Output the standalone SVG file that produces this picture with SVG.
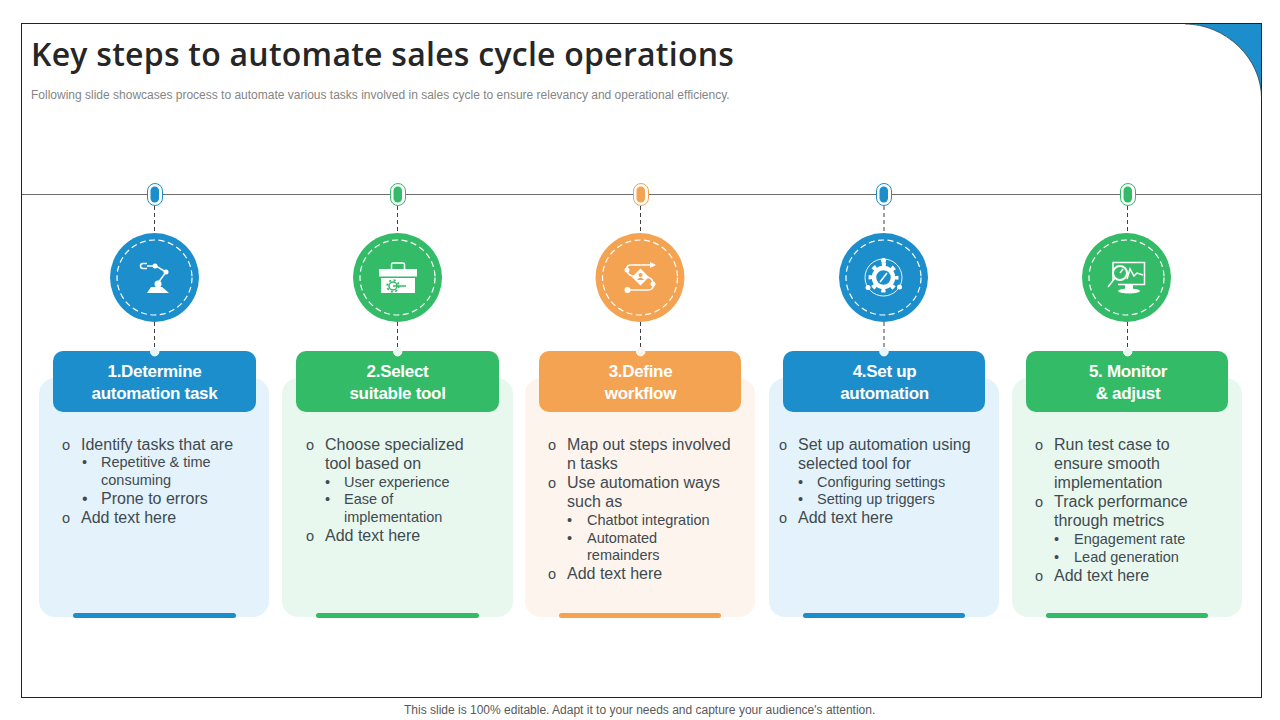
<svg xmlns="http://www.w3.org/2000/svg" width="1280" height="720" viewBox="0 0 1280 720">
<style>
text{font-family:"Liberation Sans",Arial,sans-serif}
.title{font-family:"Open Sans",sans-serif;font-size:32px;font-weight:600;fill:#262626;letter-spacing:.25px}
.sub{font-size:12px;fill:#858585}
.foot{font-size:12px;fill:#595959}
.hd{font-size:17px;font-weight:700;fill:#fff;text-anchor:middle;letter-spacing:-.3px}
.l1{font-size:16px;fill:#404a50}
.l2{font-size:14.5px;fill:#404a50}
.b{font-size:14.5px;fill:#404a50}
.dash{stroke:#404040;stroke-width:1;stroke-dasharray:4 3;fill:none}
.ring{fill:none;stroke:#fff;stroke-width:1.2;stroke-dasharray:6 3.500}
.ic{fill:#fff}
.icl{fill:none;stroke:#fff;stroke-width:1.5}
.pill{fill:#fff;stroke-width:1}
.blue{fill:#1c8ecb}.green{fill:#33bb68}.orange{fill:#f3a352}
</style>
<rect width="1280" height="720" fill="#fff"/>
<g id="frame">
<path d="M1185 24H1261.500V98C1261.500 58 1225 24 1185 24Z" fill="#1c8ecb"/>
<rect x="21.500" y="23.500" width="1240" height="674" fill="none" stroke="#222" stroke-width="1"/>
<path d="M1185 24C1225 24 1261.500 58 1261.500 98" fill="none" stroke="#333" stroke-width=".7"/>
</g>
<text class="title" x="31" y="66">Key steps to automate sales cycle operations</text>
<text class="sub" x="31" y="99">Following slide showcases process to automate various tasks involved in sales cycle to ensure relevancy and operational efficiency.</text>
<text class="foot" x="404" y="714">This slide is 100% editable. Adapt it to your needs and capture your audience's attention.</text>
<g id="connectors">
<line x1="22" y1="194.500" x2="1261" y2="194.500" stroke="#6e6e6e" stroke-width="1"/>
<path class="dash" d="M154.500 206V233M154.500 322V350M397.500 206V233M397.500 322V350M640.500 206V233M640.500 322V350M884 206V233M884 322V350M1127.500 206V233M1127.500 322V350"/>
</g>
<g id="node1">
<rect x="39" y="378" width="230" height="239" rx="16" fill="#e4f3fb"/>
<rect class="blue" x="73" y="613" width="163" height="5" rx="2.500"/>
<rect class="blue" x="53" y="351" width="203" height="61" rx="10"/>
<rect class="pill" x="147.500" y="183.500" width="15" height="22" rx="7.500" stroke="#1c8ecb"/><rect class="blue" x="150.500" y="186.500" width="8.500" height="16" rx="4.200"/>
<circle cx="154.700" cy="351.700" r="4.200" fill="#e8f4fb" stroke="#fff"/>
<circle class="blue" cx="154.500" cy="277.500" r="44.500"/><circle class="ring" cx="154.500" cy="277.500" r="37.500"/>
<path class="ic" d="M147 293L151 287H162L169 293Z"/><circle class="ic" cx="158" cy="284" r="3.500"/>
<path class="icl" stroke-width="3" d="M158 283L166 272L156 266L147 266"/><circle class="ic" cx="166" cy="272" r="2.500"/><circle class="ic" cx="155" cy="266" r="2.500"/>
<path class="icl" d="M147 263.500H143A2.500 2.500 0 0 0 143 268.500H147"/>
<text class="hd" x="154.500" y="377">1.Determine</text><text class="hd" x="154.500" y="399">automation task</text>
<text class="b" x="62" y="450">o</text><text class="l1" x="81" y="450">Identify tasks that are</text>
<text class="l2" x="82" y="467">•</text><text class="l2" x="101" y="467">Repetitive &amp; time</text>
<text class="l2" x="101" y="485">consuming</text>
<text class="l1" x="82" y="504">•</text><text class="l1" x="101" y="504">Prone to errors</text>
<text class="b" x="62" y="523">o</text><text class="l1" x="81" y="523">Add text here</text>
</g>
<g id="node2">
<rect x="282" y="378" width="231" height="239" rx="16" fill="#e9f8ef"/>
<rect class="green" x="316" y="613" width="163" height="5" rx="2.500"/>
<rect class="green" x="296" y="351" width="203" height="61" rx="10"/>
<rect class="pill" x="390.500" y="183.500" width="15" height="22" rx="7.500" stroke="#33bb68"/><rect class="green" x="393.500" y="186.500" width="8.500" height="16" rx="4.200"/>
<circle cx="397.700" cy="351.700" r="4.200" fill="#e9f8ef" stroke="#fff"/>
<circle class="green" cx="397.500" cy="277.500" r="44.500"/><circle class="ring" cx="397.500" cy="277.500" r="37.500"/>
<path class="icl" stroke-width="2" d="M391.500 269V264.500Q391.500 263 393 263H403Q404.500 263 404.500 264.500V269"/>
<rect class="ic" x="379" y="269" width="38" height="7.500"/><rect class="ic" x="381" y="278" width="34" height="15"/>
<circle cx="393" cy="286" r="4" fill="none" stroke="#33bb68" stroke-width="1.500"/><circle cx="393" cy="286" r="5.800" fill="none" stroke="#33bb68" stroke-width="1.800" stroke-dasharray="2 2.550"/><path d="M393 286H406" stroke="#33bb68" stroke-width="1.500"/>
<text class="hd" x="397.500" y="377">2.Select</text><text class="hd" x="397.500" y="399">suitable tool</text>
<text class="b" x="306" y="450">o</text><text class="l1" x="325" y="450">Choose specialized</text>
<text class="l1" x="325" y="469">tool based on</text>
<text class="l2" x="325" y="487">•</text><text class="l2" x="344" y="487">User experience</text>
<text class="l2" x="325" y="504">•</text><text class="l2" x="344" y="504">Ease of</text>
<text class="l2" x="344" y="522">implementation</text>
<text class="b" x="306" y="541">o</text><text class="l1" x="325" y="541">Add text here</text>
</g>
<g id="node3">
<rect x="525" y="378" width="230" height="239" rx="16" fill="#fdf4ed"/>
<rect class="orange" x="559" y="613" width="162" height="5" rx="2.500"/>
<rect class="orange" x="539" y="351" width="202" height="61" rx="10"/>
<rect class="pill" x="633.500" y="183.500" width="15" height="22" rx="7.500" stroke="#f3a352"/><rect class="orange" x="636.500" y="186.500" width="8.500" height="16" rx="4.200"/>
<circle cx="640.700" cy="351.700" r="4.200" fill="#fdf4ed" stroke="#fff"/>
<circle class="orange" cx="640" cy="277.500" r="44.500"/><circle class="ring" cx="640" cy="277.500" r="37.500"/>
<path class="icl" stroke-width="1.200" d="M627 270V268Q627 265 631 265H651M627 270Q627 274 632 276H634M647 277Q653 278 653 284M653 284Q654 290 648 290H630"/>
<path class="ic" d="M650 262L656 265L650 268ZM640.500 268.500L649 277L640.500 285.500L632 277Z"/>
<circle cx="640.500" cy="275" r="2" fill="#f3a352"/><path d="M637 280Q640.500 275 644 280Z" fill="#f3a352"/>
<circle class="ic" cx="627" cy="270" r="2.500"/><circle class="ic" cx="653" cy="284" r="2.500"/><circle class="ic" cx="627.500" cy="290" r="3"/>
<text class="hd" x="640.500" y="377">3.Define</text><text class="hd" x="640.500" y="399">workflow</text>
<text class="b" x="548" y="450">o</text><text class="l1" x="567" y="450">Map out steps involved</text>
<text class="l1" x="567" y="469">n tasks</text>
<text class="b" x="548" y="488">o</text><text class="l1" x="567" y="488">Use automation ways</text>
<text class="l1" x="567" y="507">such as</text>
<text class="l2" x="567" y="525">•</text><text class="l2" x="587" y="525">Chatbot integration</text>
<text class="l2" x="567" y="543">•</text><text class="l2" x="587" y="543">Automated</text>
<text class="l2" x="587" y="560">remainders</text>
<text class="b" x="548" y="579">o</text><text class="l1" x="567" y="579">Add text here</text>
</g>
<g id="node4">
<rect x="769" y="378" width="230" height="239" rx="16" fill="#e4f3fb"/>
<rect class="blue" x="803" y="613" width="162" height="5" rx="2.500"/>
<rect class="blue" x="783" y="351" width="202" height="61" rx="10"/>
<rect class="pill" x="876.500" y="183.500" width="15" height="22" rx="7.500" stroke="#1c8ecb"/><rect class="blue" x="879.500" y="186.500" width="8.500" height="16" rx="4.200"/>
<circle cx="884" cy="351.700" r="4.200" fill="#e8f4fb" stroke="#fff"/>
<circle class="blue" cx="883.500" cy="277.500" r="44.500"/><circle class="ring" cx="883.500" cy="277.500" r="37.500"/>
<circle cx="883.500" cy="277.500" r="18.500" fill="none" stroke="#fff" stroke-width=".9"/>
<circle cx="883.500" cy="277.500" r="9.500" fill="none" stroke="#fff" stroke-width="4.500"/>
<circle cx="883.500" cy="277.500" r="13" fill="none" stroke="#fff" stroke-width="4" stroke-dasharray="4.200 6" stroke-dashoffset="2.100"/>
<circle class="ic" cx="883.500" cy="260.500" r="2.500"/><circle class="ic" cx="868" cy="287.500" r="2.500"/><circle class="ic" cx="899.500" cy="287" r="2.500"/>
<path class="icl" stroke-width="2" d="M880 282L887 273"/>
<text class="hd" x="884.500" y="377">4.Set up</text><text class="hd" x="884.500" y="399">automation</text>
<text class="b" x="779" y="450">o</text><text class="l1" x="798" y="450">Set up automation using</text>
<text class="l1" x="798" y="469">selected tool for</text>
<text class="l2" x="798" y="487">•</text><text class="l2" x="817" y="487">Configuring settings</text>
<text class="l2" x="798" y="504">•</text><text class="l2" x="817" y="504">Setting up triggers</text>
<text class="b" x="779" y="523">o</text><text class="l1" x="798" y="523">Add text here</text>
</g>
<g id="node5">
<rect x="1012" y="378" width="230" height="239" rx="16" fill="#e9f8ef"/>
<rect class="green" x="1046" y="613" width="162" height="5" rx="2.500"/>
<rect class="green" x="1026" y="351" width="202" height="61" rx="10"/>
<rect class="pill" x="1120.500" y="183.500" width="15" height="22" rx="7.500" stroke="#33bb68"/><rect class="green" x="1123.500" y="186.500" width="8.500" height="16" rx="4.200"/>
<circle cx="1127.700" cy="351.700" r="4.200" fill="#e9f8ef" stroke="#fff"/>
<circle class="green" cx="1126.500" cy="277.500" r="44.500"/><circle class="ring" cx="1126.500" cy="277.500" r="37.500"/>
<path class="icl" stroke-width="2" d="M1113 280V262.500H1144.500V284.500H1118"/>
<ellipse class="ic" cx="1129" cy="291" rx="11" ry="2.500"/><rect class="ic" x="1125" y="285" width="8" height="5"/>
<circle cx="1120" cy="273" r="7" fill="#33bb68" stroke="#fff" stroke-width="2"/>
<path class="icl" stroke-width="2.200" d="M1115 278L1108 287"/>
<path class="icl" d="M1120 273L1123 269M1127 279L1130 269L1134 276L1137 273L1143 275"/>
<text class="hd" x="1128" y="377">5. Monitor</text><text class="hd" x="1128" y="399">&amp; adjust</text>
<text class="b" x="1035" y="450">o</text><text class="l1" x="1054" y="450">Run test case to</text>
<text class="l1" x="1054" y="469">ensure smooth</text>
<text class="l1" x="1054" y="488">implementation</text>
<text class="b" x="1035" y="507">o</text><text class="l1" x="1054" y="507">Track performance</text>
<text class="l1" x="1054" y="526">through metrics</text>
<text class="l2" x="1054" y="544">•</text><text class="l2" x="1074" y="544">Engagement rate</text>
<text class="l2" x="1054" y="562">•</text><text class="l2" x="1074" y="562">Lead generation</text>
<text class="b" x="1035" y="581">o</text><text class="l1" x="1054" y="581">Add text here</text>
</g>
</svg>
